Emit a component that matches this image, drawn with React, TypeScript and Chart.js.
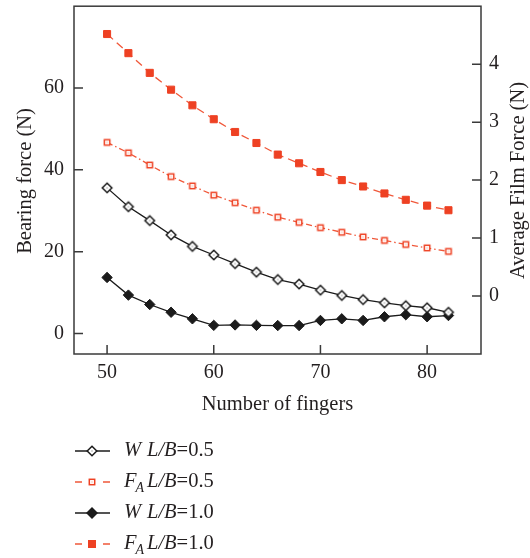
import React, { useEffect, useRef } from 'react';
import { Chart, registerables } from 'chart.js';

Chart.register(...registerables);

// Number of fingers on the bearing
const fingers = [50, 52, 54, 56, 58, 60, 62, 64, 66, 68, 70, 72, 74, 76, 78, 80, 82];

// Bearing force W (N), left axis
const bearingForceLB05 = [35.6, 31.0, 27.6, 24.1, 21.3, 19.2, 17.1, 15.0, 13.2, 12.1, 10.6, 9.3, 8.3, 7.5, 6.8, 6.3, 5.2];
const bearingForceLB10 = [13.7, 9.4, 7.1, 5.2, 3.6, 2.0, 2.1, 2.0, 1.95, 1.95, 3.2, 3.6, 3.2, 4.1, 4.6, 4.1, 4.4];

// Average film force F_A (N), right axis
const filmForceLB05 = [2.65, 2.47, 2.26, 2.06, 1.9, 1.74, 1.61, 1.48, 1.36, 1.27, 1.18, 1.1, 1.02, 0.96, 0.89, 0.83, 0.77];
const filmForceLB10 = [4.52, 4.19, 3.85, 3.56, 3.29, 3.05, 2.83, 2.64, 2.44, 2.29, 2.14, 2.0, 1.89, 1.77, 1.66, 1.56, 1.48];

// Tick values
const fingerTicks = [50, 60, 70, 80];
const bearingTicks = [0, 20, 40, 60];
const filmTicks = [0, 1, 2, 3, 4];

// Legend entries
const legendRatios = ['0.5', '0.5', '1.0', '1.0'];
const legendSymbols = ['W', 'F', 'W', 'F'];

const SERIF = '"Liberation Serif", "Times New Roman", serif';
const TEXT = '#231f20';
const AXIS = '#3a3a3a';
const BLACK = '#1b1b1b';
const RED = '#ee4123';
const RED_LINE = '#f0583a';
const DASH_FA10 = [8, 5];
const DASH_FA05 = [6, 3, 1.5, 3];

function makeMarker(draw: (g: CanvasRenderingContext2D) => void): HTMLCanvasElement {
  const c = document.createElement('canvas');
  c.width = 16;
  c.height = 16;
  const g = c.getContext('2d')!;
  draw(g);
  return c;
}

function drawLegendLabel(ctx: CanvasRenderingContext2D, sym: string, ratio: string, baseline: number) {
  ctx.fillStyle = TEXT;
  ctx.textAlign = 'left';
  ctx.textBaseline = 'alphabetic';
  ctx.font = `italic 20.5px ${SERIF}`;
  ctx.fillText(sym, 124, baseline);
  if (sym === 'F') {
    const fw = ctx.measureText('F').width;
    ctx.font = `italic 14px ${SERIF}`;
    ctx.fillText('A', 124 + fw - 1, baseline + 5);
  }
  ctx.font = `italic 20.5px ${SERIF}`;
  ctx.fillText('L/B', 147, baseline);
  const w = ctx.measureText('L/B').width;
  ctx.font = `20.5px ${SERIF}`;
  ctx.fillText('=' + ratio, 147 + w, baseline);
}

export default function App() {
  const ref = useRef<HTMLCanvasElement>(null);

  useEffect(() => {
    const canvas = ref.current!;

    const openDiamond = makeMarker((g) => {
      g.beginPath();
      g.moveTo(8, 3.2);
      g.lineTo(12.8, 8);
      g.lineTo(8, 12.8);
      g.lineTo(3.2, 8);
      g.closePath();
      g.fillStyle = '#fff';
      g.fill();
      g.lineWidth = 1.5;
      g.strokeStyle = BLACK;
      g.stroke();
      g.fillStyle = '#666';
      g.fillRect(7.5, 7.5, 1, 1);
    });
    const openSquare = makeMarker((g) => {
      g.fillStyle = '#fff';
      g.fillRect(5.3, 5.3, 5.4, 5.4);
      g.lineWidth = 1.5;
      g.strokeStyle = RED;
      g.strokeRect(5.3, 5.3, 5.4, 5.4);
      g.fillStyle = '#f08a70';
      g.fillRect(7.5, 7.5, 1, 1);
    });

    const pts = (ys: number[]) => fingers.map((x, i) => ({ x, y: ys[i] }));

    const decorations = {
      id: 'decorations',
      afterDraw(chart: any) {
        const { ctx, chartArea: a, scales } = chart;
        ctx.save();

        // Frame and inward tick marks
        ctx.strokeStyle = AXIS;
        ctx.lineWidth = 1.5;
        ctx.strokeRect(a.left, a.top, a.right - a.left, a.bottom - a.top);
        ctx.beginPath();
        scales.x.ticks.forEach((t: any) => {
          const p = scales.x.getPixelForValue(t.value);
          ctx.moveTo(p, a.bottom);
          ctx.lineTo(p, a.bottom - 9);
        });
        scales.y.ticks.forEach((t: any) => {
          const p = scales.y.getPixelForValue(t.value);
          ctx.moveTo(a.left, p);
          ctx.lineTo(a.left + 9, p);
        });
        scales.y1.ticks.forEach((t: any) => {
          const p = scales.y1.getPixelForValue(t.value);
          ctx.moveTo(a.right, p);
          ctx.lineTo(a.right - 9, p);
        });
        ctx.stroke();

        // Axis titles
        ctx.fillStyle = TEXT;
        ctx.font = `20.5px ${SERIF}`;
        ctx.textAlign = 'center';
        ctx.textBaseline = 'alphabetic';
        ctx.fillText('Number of fingers', (a.left + a.right) / 2, 410);

        ctx.save();
        ctx.translate(31, 181);
        ctx.rotate(-Math.PI / 2);
        ctx.fillText('Bearing force (N)', 0, 0);
        ctx.restore();

        ctx.save();
        ctx.translate(524, 180.5);
        ctx.rotate(-Math.PI / 2);
        ctx.fillText('Average Film Force (N)', 0, 0);
        ctx.restore();

        // Legend
        const rowY = [451, 482, 513, 544];
        rowY.forEach((y, i) => {
          const ds = chart.data.datasets[i];
          ctx.save();
          ctx.lineWidth = 1.5;
          ctx.strokeStyle = ds.borderColor;
          ctx.beginPath();
          if (ds.borderDash && ds.borderDash.length) {
            ctx.moveTo(75, y);
            ctx.lineTo(82, y);
            ctx.moveTo(103, y);
            ctx.lineTo(110, y);
          } else {
            ctx.moveTo(75, y);
            ctx.lineTo(110, y);
          }
          ctx.stroke();
          const style = ds.pointStyle;
          if (style instanceof HTMLCanvasElement) {
            ctx.drawImage(style, 92 - 8, y - 8);
          } else if (style === 'rectRot') {
            ctx.fillStyle = ds.pointBackgroundColor;
            ctx.beginPath();
            ctx.moveTo(92, y - 6);
            ctx.lineTo(98, y);
            ctx.lineTo(92, y + 6);
            ctx.lineTo(86, y);
            ctx.closePath();
            ctx.fill();
          } else {
            ctx.fillStyle = ds.pointBackgroundColor;
            ctx.fillRect(88, y - 4, 8, 8);
          }
          ctx.restore();
          drawLegendLabel(ctx, legendSymbols[i], legendRatios[i], y + 5);
        });

        ctx.restore();
      },
    };

    const tickFont = { family: SERIF, size: 20 };

    const chart = new Chart(canvas, {
      type: 'line',
      data: {
        datasets: [
          {
            label: 'W L/B=0.5',
            data: pts(bearingForceLB05),
            yAxisID: 'y',
            borderColor: BLACK,
            borderWidth: 1.3,
            pointStyle: openDiamond,
            pointBackgroundColor: '#fff',
            pointBorderColor: BLACK,
          },
          {
            label: 'F_A L/B=0.5',
            data: pts(filmForceLB05),
            yAxisID: 'y1',
            borderColor: RED_LINE,
            borderWidth: 1.3,
            borderDash: DASH_FA05,
            pointStyle: openSquare,
            pointBackgroundColor: '#fff',
            pointBorderColor: RED,
          },
          {
            label: 'W L/B=1.0',
            data: pts(bearingForceLB10),
            yAxisID: 'y',
            borderColor: BLACK,
            borderWidth: 1.3,
            pointStyle: 'rectRot',
            pointRadius: 5.2,
            pointBorderWidth: 1,
            pointBackgroundColor: BLACK,
            pointBorderColor: BLACK,
          },
          {
            label: 'F_A L/B=1.0',
            data: pts(filmForceLB10),
            yAxisID: 'y1',
            borderColor: RED_LINE,
            borderWidth: 1.3,
            borderDash: DASH_FA10,
            pointStyle: 'rect',
            pointRadius: 5,
            pointBorderWidth: 1,
            pointBackgroundColor: RED,
            pointBorderColor: RED,
          },
        ] as any,
      },
      options: {
        responsive: false,
        animation: false,
        events: [],
        layout: { padding: { top: 6, left: 0, right: 0, bottom: 0 } },
        plugins: { legend: { display: false }, tooltip: { enabled: false } },
        elements: { line: { tension: 0 } },
        scales: {
          x: {
            type: 'linear',
            min: 46.9,
            max: 85.05,
            afterBuildTicks: (s: any) => {
              s.ticks = fingerTicks.map((v) => ({ value: v }));
            },
            afterFit: (s: any) => {
              s.height = 204;
              s.paddingLeft = 0;
              s.paddingRight = 0;
            },
            grid: { display: false, drawTicks: false },
            border: { display: false },
            ticks: { padding: 7, color: TEXT, font: tickFont, maxRotation: 0, autoSkip: false },
          },
          y: {
            type: 'linear',
            position: 'left',
            min: -5,
            max: 80,
            afterBuildTicks: (s: any) => {
              s.ticks = bearingTicks.map((v) => ({ value: v }));
            },
            afterFit: (s: any) => {
              s.width = 74;
              s.paddingTop = 0;
              s.paddingBottom = 0;
            },
            grid: { display: false, drawTicks: false },
            border: { display: false },
            ticks: { padding: 10, color: TEXT, font: tickFont, autoSkip: false },
          },
          y1: {
            type: 'linear',
            position: 'right',
            min: -1,
            max: 5,
            afterBuildTicks: (s: any) => {
              s.ticks = filmTicks.map((v) => ({ value: v }));
            },
            afterFit: (s: any) => {
              s.width = 49;
              s.paddingTop = 0;
              s.paddingBottom = 0;
            },
            grid: { display: false, drawTicks: false },
            border: { display: false },
            ticks: { padding: 8, color: TEXT, font: tickFont, autoSkip: false },
          },
        },
      } as any,
      plugins: [decorations],
    });

    return () => chart.destroy();
  }, []);

  return (
    <div style={{ position: 'absolute', left: 0, top: 0, width: 530, height: 558, background: '#fff' }}>
      <canvas ref={ref} width={530} height={558} style={{ display: 'block', width: 530, height: 558 }} />
    </div>
  );
}
